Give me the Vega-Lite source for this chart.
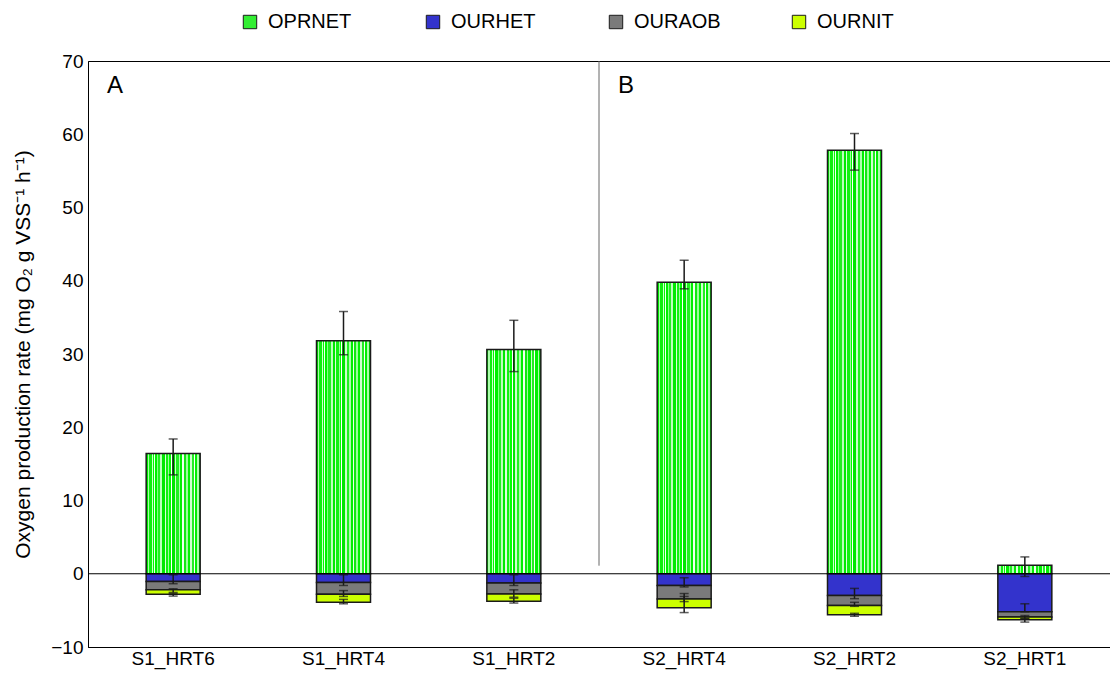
{
  "$schema": "https://vega.github.io/schema/vega-lite/v6.json",
  "width": 1022,
  "height": 586,
  "autosize": {"type": "none"},
  "padding": {"left": 88, "top": 61, "right": 0, "bottom": 37},
  "background": "white",
  "config": {
    "font": "Liberation Sans",
    "view": {"stroke": "black", "strokeWidth": 1},
    "axis": {"grid": false, "ticks": false, "domainColor": "black", "labelColor": "black", "titleColor": "black", "labelFontSize": 19, "titleFontSize": 21, "titleFontWeight": "normal", "labelFont": "Liberation Sans", "titleFont": "Liberation Sans"}
  },
  "data": {
    "values": [
      {"cat": "S1_HRT6", "series": "OPRNET", "ord": 0, "value": 16.4, "lo": 13.5, "hi": 18.4},
      {"cat": "S1_HRT6", "series": "OURHET", "ord": 1, "value": -1.05, "lo": -1.36, "hi": -0.14},
      {"cat": "S1_HRT6", "series": "OURAOB", "ord": 2, "value": -1.15, "lo": -2.55, "hi": -2.05},
      {"cat": "S1_HRT6", "series": "OURNIT", "ord": 3, "value": -0.6, "lo": -3.05, "hi": -2.7},
      {"cat": "S1_HRT4", "series": "OPRNET", "ord": 0, "value": 31.8, "lo": 29.9, "hi": 35.8},
      {"cat": "S1_HRT4", "series": "OURHET", "ord": 1, "value": -1.2, "lo": -1.6, "hi": -0.14},
      {"cat": "S1_HRT4", "series": "OURAOB", "ord": 2, "value": -1.6, "lo": -3.1, "hi": -2.3},
      {"cat": "S1_HRT4", "series": "OURNIT", "ord": 3, "value": -1.1, "lo": -4.1, "hi": -3.5},
      {"cat": "S1_HRT2", "series": "OPRNET", "ord": 0, "value": 30.6, "lo": 27.6, "hi": 34.6},
      {"cat": "S1_HRT2", "series": "OURHET", "ord": 1, "value": -1.27, "lo": -1.6, "hi": -0.14},
      {"cat": "S1_HRT2", "series": "OURAOB", "ord": 2, "value": -1.5, "lo": -3.2, "hi": -2.2},
      {"cat": "S1_HRT2", "series": "OURNIT", "ord": 3, "value": -1.0, "lo": -4.0, "hi": -3.35},
      {"cat": "S2_HRT4", "series": "OPRNET", "ord": 0, "value": 39.8, "lo": 38.9, "hi": 42.8},
      {"cat": "S2_HRT4", "series": "OURHET", "ord": 1, "value": -1.6, "lo": -1.8, "hi": -0.55},
      {"cat": "S2_HRT4", "series": "OURAOB", "ord": 2, "value": -1.85, "lo": -3.8, "hi": -2.7},
      {"cat": "S2_HRT4", "series": "OURNIT", "ord": 3, "value": -1.2, "lo": -5.3, "hi": -3.1},
      {"cat": "S2_HRT2", "series": "OPRNET", "ord": 0, "value": 57.8, "lo": 55.1, "hi": 60.1},
      {"cat": "S2_HRT2", "series": "OURHET", "ord": 1, "value": -2.96, "lo": -3.4, "hi": -2.0},
      {"cat": "S2_HRT2", "series": "OURAOB", "ord": 2, "value": -1.36, "lo": -4.45, "hi": -3.9},
      {"cat": "S2_HRT2", "series": "OURNIT", "ord": 3, "value": -1.28, "lo": -5.8, "hi": -5.4},
      {"cat": "S2_HRT1", "series": "OPRNET", "ord": 0, "value": 1.15, "lo": -0.37, "hi": 2.3},
      {"cat": "S2_HRT1", "series": "OURHET", "ord": 1, "value": -5.18, "lo": -5.2, "hi": -4.1},
      {"cat": "S2_HRT1", "series": "OURAOB", "ord": 2, "value": -0.72, "lo": -6.1, "hi": -5.7},
      {"cat": "S2_HRT1", "series": "OURNIT", "ord": 3, "value": -0.38, "lo": -6.6, "hi": -6.1}
    ]
  },
  "resolve": {"scale": {"x": "shared", "y": "shared"}},
  "layer": [
    {
      "transform": [{"filter": "datum.series === 'OPRNET'"}],
      "mark": {
        "type": "bar", "width": 54, "stroke": "#1a1a1a", "strokeWidth": 1.5,
        "fill": {"gradient": "linear", "x1": 0, "y1": 0, "x2": 1, "y2": 0, "stops": [
          {"offset": 0, "color": "#00e600"}, {"offset": 0.03, "color": "#00e600"},
          {"offset": 0.03, "color": "#aaffaa"}, {"offset": 0.05, "color": "#aaffaa"},
          {"offset": 0.05, "color": "#11ee11"}, {"offset": 0.1, "color": "#11ee11"},
          {"offset": 0.1, "color": "#ccffcc"}, {"offset": 0.12, "color": "#ccffcc"},
          {"offset": 0.12, "color": "#00ff00"}, {"offset": 0.14, "color": "#00ff00"},
          {"offset": 0.14, "color": "#eeffee"}, {"offset": 0.16, "color": "#eeffee"},
          {"offset": 0.16, "color": "#00f000"}, {"offset": 0.2, "color": "#00f000"},
          {"offset": 0.2, "color": "#88ff88"}, {"offset": 0.22, "color": "#88ff88"},
          {"offset": 0.22, "color": "#22ee22"}, {"offset": 0.26, "color": "#22ee22"},
          {"offset": 0.26, "color": "#bbffbb"}, {"offset": 0.3, "color": "#bbffbb"},
          {"offset": 0.3, "color": "#00e800"}, {"offset": 0.34, "color": "#00e800"},
          {"offset": 0.34, "color": "#ddffdd"}, {"offset": 0.37, "color": "#ddffdd"},
          {"offset": 0.37, "color": "#11f011"}, {"offset": 0.41, "color": "#11f011"},
          {"offset": 0.41, "color": "#99ff99"}, {"offset": 0.43, "color": "#99ff99"},
          {"offset": 0.43, "color": "#00ff00"}, {"offset": 0.46, "color": "#00ff00"},
          {"offset": 0.46, "color": "#ffffff"}, {"offset": 0.48, "color": "#ffffff"},
          {"offset": 0.48, "color": "#00e600"}, {"offset": 0.53, "color": "#00e600"},
          {"offset": 0.53, "color": "#ccffcc"}, {"offset": 0.56, "color": "#ccffcc"},
          {"offset": 0.56, "color": "#22f022"}, {"offset": 0.6, "color": "#22f022"},
          {"offset": 0.6, "color": "#aaffaa"}, {"offset": 0.63, "color": "#aaffaa"},
          {"offset": 0.63, "color": "#00ee00"}, {"offset": 0.67, "color": "#00ee00"},
          {"offset": 0.67, "color": "#eeffee"}, {"offset": 0.7, "color": "#eeffee"},
          {"offset": 0.7, "color": "#11e811"}, {"offset": 0.74, "color": "#11e811"},
          {"offset": 0.74, "color": "#99ff99"}, {"offset": 0.77, "color": "#99ff99"},
          {"offset": 0.77, "color": "#00f000"}, {"offset": 0.81, "color": "#00f000"},
          {"offset": 0.81, "color": "#ccffcc"}, {"offset": 0.84, "color": "#ccffcc"},
          {"offset": 0.84, "color": "#22ee22"}, {"offset": 0.88, "color": "#22ee22"},
          {"offset": 0.88, "color": "#ffffff"}, {"offset": 0.9, "color": "#ffffff"},
          {"offset": 0.9, "color": "#00f000"}, {"offset": 0.94, "color": "#00f000"},
          {"offset": 0.94, "color": "#aaffaa"}, {"offset": 0.97, "color": "#aaffaa"},
          {"offset": 0.97, "color": "#00e600"}, {"offset": 1, "color": "#00e600"}
        ]}
      },
      "encoding": {
        "x": {"field": "cat", "type": "nominal", "sort": null,
          "scale": {"domain": ["S1_HRT6", "S1_HRT4", "S1_HRT2", "S2_HRT4", "S2_HRT2", "S2_HRT1"], "paddingInner": 0, "paddingOuter": 0},
          "axis": {"title": null, "labelAngle": 0, "labelPadding": 2}},
        "y": {"field": "value", "type": "quantitative",
          "scale": {"domain": [-10, 70], "nice": false, "zero": false},
          "axis": {"title": "Oxygen production rate  (mg O₂ g VSS⁻¹ h⁻¹)", "values": [-10, 0, 10, 20, 30, 40, 50, 60, 70], "labelPadding": 5, "titlePadding": 17}}
      }
    },
    {
      "transform": [{"filter": "datum.series !== 'OPRNET'"}],
      "mark": {"type": "bar", "width": 54, "stroke": "#1a1a1a", "strokeWidth": 1.5},
      "encoding": {
        "x": {"field": "cat", "type": "nominal", "sort": null},
        "y": {"field": "value", "type": "quantitative"},
        "order": {"field": "ord", "type": "quantitative"},
        "color": {"field": "series", "type": "nominal",
          "scale": {"domain": ["OPRNET", "OURHET", "OURAOB", "OURNIT"], "range": ["#33ee33", "#3333cc", "#7a7a7a", "#ccff00"]},
          "legend": {"title": null, "orient": "none", "legendX": 152, "legendY": -49, "direction": "horizontal", "symbolType": "square", "symbolSize": 180, "symbolStrokeColor": "#1a1a1a", "symbolStrokeWidth": 1, "labelFontSize": 20, "labelColor": "black", "labelFont": "Liberation Sans", "gridAlign": "all", "columnPadding": 68, "labelOffset": 8}}
      }
    },
    {
      "mark": {"type": "rule", "color": "#1a1a1a", "strokeWidth": 1.5},
      "encoding": {
        "x": {"field": "cat", "type": "nominal", "sort": null},
        "y": {"field": "lo", "type": "quantitative"},
        "y2": {"field": "hi"}
      }
    },
    {
      "mark": {"type": "tick", "color": "#1a1a1a", "thickness": 1.5, "size": 9},
      "encoding": {
        "x": {"field": "cat", "type": "nominal", "sort": null},
        "y": {"field": "lo", "type": "quantitative"}
      }
    },
    {
      "mark": {"type": "tick", "color": "#1a1a1a", "thickness": 1.5, "size": 9},
      "encoding": {
        "x": {"field": "cat", "type": "nominal", "sort": null},
        "y": {"field": "hi", "type": "quantitative"}
      }
    },
    {
      "data": {"values": [{}]},
      "mark": {"type": "rule", "color": "black", "strokeWidth": 1},
      "encoding": {"y": {"datum": 0, "type": "quantitative"}}
    },
    {
      "data": {"values": [{}]},
      "mark": {"type": "rule", "color": "#666666", "strokeWidth": 1},
      "encoding": {
        "x": {"datum": "S2_HRT4", "type": "nominal", "bandPosition": 0},
        "y": {"datum": 70, "type": "quantitative"},
        "y2": {"datum": 1.1}
      }
    },
    {
      "data": {"values": [{"lab": "A", "cat": "S1_HRT6"}, {"lab": "B", "cat": "S2_HRT4"}]},
      "mark": {"type": "text", "align": "left", "baseline": "middle", "fontSize": 24, "dx": 19, "color": "black", "font": "Liberation Sans"},
      "encoding": {
        "x": {"field": "cat", "type": "nominal", "bandPosition": 0, "sort": null},
        "y": {"datum": 66.6, "type": "quantitative"},
        "text": {"field": "lab"}
      }
    }
  ]
}
